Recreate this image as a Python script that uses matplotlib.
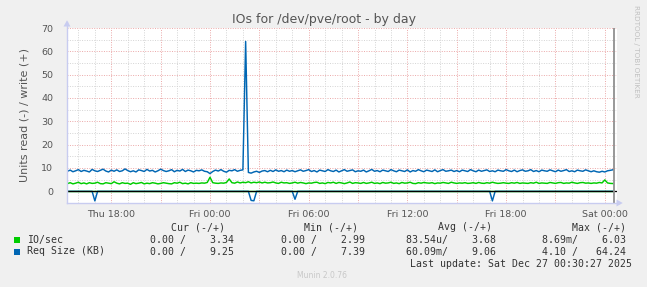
import matplotlib
matplotlib.use("Agg")
import matplotlib.pyplot as plt
import numpy as np

# ---------------- data ----------------
# samples every 10 minutes, first sample Thu 15:20, last Sat 00:30 (hours from Thu 00:00)
start_hour = 15 + 20 / 60
step_hours = 10 / 60

# write Req Size (KB), positive side
req_size_write = [
    8.6, 9.1, 8.4, 8.8, 9.3, 8.5, 9.0, 8.7, 8.3, 9.4, 8.8, 8.5,
    9.0, 9.5, 8.7, 8.3, 9.1, 8.6, 9.2, 8.5, 8.8, 9.6, 8.9, 8.4,
    8.8, 8.3, 9.2, 8.9, 8.5, 9.4, 8.7, 9.0, 8.3, 8.8, 9.5, 8.9,
    8.5, 8.8, 9.3, 8.4, 9.0, 8.7, 9.4, 8.5, 9.1, 8.8, 8.3, 9.0,
    8.8, 9.2, 8.6, 8.4, 7.6, 8.5, 9.1, 8.7, 9.3, 8.6, 8.2, 9.0,
    8.8, 9.3, 8.6, 9.0, 9.2, 64.24, 8.1, 7.8, 8.3, 8.6, 8.1, 8.7,
    8.9, 8.4, 9.0, 8.5, 9.2, 8.6, 8.9, 8.4, 9.1, 8.6, 8.9, 8.4,
    8.8, 9.2, 8.6, 8.9, 9.3, 8.5, 8.9, 8.3, 9.1, 8.8, 8.5, 9.3,
    8.8, 8.5, 9.1, 8.3, 8.8, 9.3, 8.6, 8.9, 9.2, 8.4, 8.8, 8.6,
    9.1, 8.3, 8.8, 9.4, 8.6, 8.9, 8.4, 9.1, 8.8, 8.5, 9.3, 8.8,
    8.4, 9.1, 8.8, 8.5, 9.2, 8.3, 8.9, 8.6, 9.3, 8.8, 8.4, 9.1,
    8.8, 8.5, 9.2, 8.4, 8.9, 9.3, 8.6, 8.8, 9.1, 8.5, 8.9, 8.4,
    9.1, 8.8, 8.5, 9.3, 8.8, 8.4, 9.1, 8.6, 8.9, 9.2, 8.5, 8.8,
    8.4, 9.1, 8.8, 8.6, 9.3, 8.8, 8.5, 9.1, 8.4, 8.9, 9.2, 8.6,
    8.8, 9.3, 8.5, 8.9, 8.4, 9.1, 8.8, 8.6, 9.2, 8.8, 8.4, 9.1,
    8.6, 8.9, 9.3, 8.5, 8.8, 8.4, 9.1, 8.8, 8.6, 9.2, 8.8, 8.4,
    8.8, 8.4, 8.2, 8.6, 8.3, 8.8, 9.0, 9.25,
]

# write IO/sec, positive side
io_write = [
    3.3, 3.7, 3.2, 3.5, 3.9, 3.3, 3.6, 3.2, 3.7, 3.4, 3.5, 3.9,
    3.3, 3.2, 3.7, 3.5, 3.3, 4.1, 3.5, 3.2, 3.7, 3.4, 3.5, 3.0,
    3.7, 3.3, 3.5, 3.8, 3.2, 3.5, 3.3, 3.7, 3.5, 3.2, 3.4, 3.7,
    3.5, 3.3, 3.2, 3.7, 3.5, 3.9, 3.3, 3.5, 3.2, 3.7, 3.4, 3.5,
    3.4, 3.6, 3.5, 3.8, 6.03, 3.7, 3.5, 3.4, 3.6, 3.5, 3.8, 5.3,
    3.7, 3.5, 4.0, 3.6, 3.9, 3.7, 4.1, 3.6, 3.9, 3.7, 4.0, 3.6,
    3.9, 3.6, 3.7, 4.0, 3.6, 3.4, 3.9, 3.6, 3.7, 3.4, 3.6, 3.9,
    3.5, 3.8, 3.6, 3.3, 3.6, 3.5, 3.8, 3.9, 3.4, 3.6, 3.3, 3.8,
    3.6, 3.9, 3.4, 3.8, 3.6, 3.3, 3.6, 4.0, 3.4, 3.7, 3.6, 3.4,
    3.8, 3.4, 3.6, 3.9, 3.4, 3.6, 3.3, 3.8, 3.5, 3.6, 3.9, 3.4,
    3.6, 3.3, 3.8, 3.5, 3.6, 3.9, 3.4, 3.3, 3.7, 3.5, 3.8, 3.6,
    3.5, 3.7, 3.3, 3.6, 3.5, 3.8, 3.6, 3.4, 3.9, 3.6, 3.4, 3.6,
    3.5, 3.7, 3.4, 3.5, 3.7, 3.4, 3.8, 3.5, 3.4, 3.7, 3.5, 3.9,
    3.6, 3.4, 3.5, 3.7, 3.5, 3.4, 3.7, 3.5, 3.8, 3.4, 3.6, 3.5,
    3.4, 3.7, 3.5, 3.9, 3.4, 3.6, 3.5, 3.4, 3.8, 3.6, 3.4, 3.7,
    3.8, 3.4, 3.6, 3.5, 3.9, 3.6, 3.4, 3.7, 3.8, 3.5, 3.6, 3.4,
    3.6, 3.5, 3.8, 3.6, 4.9, 3.6, 3.4, 3.34,
]

# read Req Size (KB): non-zero samples only (sample index -> value), elsewhere 0
read_req_index = [10, 67, 68, 83, 155]
read_req_value = [4.10, 3.9, 4.05, 3.4, 4.1]

tick_hours = [18, 24, 30, 36, 42, 48]
tick_labels = ["Thu 18:00", "Fri 00:00", "Fri 06:00", "Fri 12:00", "Fri 18:00", "Sat 00:00"]

legend_names = ["IO/sec", "Req Size (KB)"]
legend_colors = ["#00CC00", "#0066B3"]
legend_headers = ["Cur (-/+)", "Min (-/+)", "Avg (-/+)", "Max (-/+)"]
legend_rows = [
    ["0.00 /    3.34", "0.00 /    2.99", "83.54u/    3.68", "8.69m/    6.03"],
    ["0.00 /    9.25", "0.00 /    7.39", "60.09m/    9.06", "4.10 /   64.24"],
]

# ---------------- figure ----------------
W, H = 647, 287
fig = plt.figure(figsize=(W / 100, H / 100), dpi=100, facecolor="#F0F0F0")

x_left_px, x_right_px = 67, 617
y_top_px, y_bot_px = 28, 203
ax = fig.add_axes([x_left_px / W, 1 - y_bot_px / H,
                   (x_right_px - x_left_px) / W, (y_bot_px - y_top_px) / H])
ax.set_facecolor("white")

n = len(req_size_write)
hours = start_hour + step_hours * np.arange(n)
read_req = np.zeros(n)
read_req[read_req_index] = read_req_value
read_io = np.zeros(n)

x0 = 24 - (210 - x_left_px) / 16.45
x1 = 24 + (x_right_px - 210) / 16.45
ax.set_xlim(x0, x1)
ax.set_ylim(-5, 70)

# grid
minor_c = "#D4D4D4"
major_c = "#EBA8A8"
for yv in range(-5, 71, 5):
    c = major_c if yv % 10 == 0 else minor_c
    ax.axhline(yv, color=c, lw=0.7, ls=(0, (1, 1.5)), zorder=1)
for hv in range(16, 49):
    c = major_c if hv % 3 == 0 else minor_c
    ax.axvline(hv, color=c, lw=0.7, ls=(0, (1, 1.5)), zorder=1)

# series
ax.plot(hours, -read_io, color=legend_colors[0], lw=1.05, zorder=3)
ax.plot(hours, io_write, color=legend_colors[0], lw=1.05, zorder=3)
ax.plot(hours, -read_req, color=legend_colors[1], lw=1.05, zorder=3)
ax.plot(hours, req_size_write, color=legend_colors[1], lw=1.05, zorder=3)
ax.axhline(0, color="black", lw=0.9, zorder=4)
ax.axvline(hours[-1] + 0.05, color="#909090", lw=1.3, zorder=5)

# axes
for s in ax.spines.values():
    s.set_visible(False)
axis_c = "#C8CCF0"
ax.plot([x0, x0], [-5, 72.5], color=axis_c, lw=1.0, clip_on=False, zorder=6)
ax.plot([x0, x1 + 0.1], [-5, -5], color=axis_c, lw=1.0, clip_on=False, zorder=6)
ax.annotate("", xy=(x0, 74.5), xytext=(x0, 71.5),
            arrowprops=dict(arrowstyle="-|>,head_width=0.25,head_length=0.45",
                            color=axis_c, lw=0), annotation_clip=False)
ax.annotate("", xy=(x1 + 0.35, -5), xytext=(x1 + 0.05, -5),
            arrowprops=dict(arrowstyle="-|>,head_width=0.25,head_length=0.45",
                            color=axis_c, lw=0), annotation_clip=False)

ax.set_yticks(range(0, 71, 10))
ax.set_xticks(tick_hours)
ax.set_xticklabels(tick_labels)
ax.tick_params(axis="both", length=0, labelsize=6.8, labelcolor="#555555")
ax.tick_params(axis="y", pad=10)
ax.tick_params(axis="x", pad=5)

ax.set_ylabel("Units read (-) / write (+)", fontsize=8, color="#555555", labelpad=8)

fig.text(323.5 / W, 1 - 19 / H, "IOs for /dev/pve/root - by day",
         ha="center", va="center", fontsize=9, color="#555555")
fig.text(636 / W, 1 - 5 / H, "RRDTOOL / TOBI OETIKER", rotation=270,
         ha="center", va="top", fontsize=5.2, color="#C0C0C0")
fig.text(322 / W, 1 - 276 / H, "Munin 2.0.76", ha="center", va="center",
         fontsize=5.5, color="#C8C8C8")

mono = "DejaVu Sans Mono"
fs = 7.1
tc = "#333333"
header_right = [225, 358, 492, 626]
value_right = [234, 365, 496, 626]
for hx, htxt in zip(header_right, legend_headers):
    fig.text(hx / W, 1 - 227.5 / H, htxt, ha="right", va="center",
             family=mono, fontsize=fs, color=tc)
row_y = [239.5, 251.5]
for name, col, vals, ry in zip(legend_names, legend_colors, legend_rows, row_y):
    fig.patches.append(plt.Rectangle((14 / W, 1 - (ry + 3) / H), 6 / W, 6 / H,
                                     transform=fig.transFigure, facecolor=col,
                                     edgecolor="none"))
    fig.text(27 / W, 1 - ry / H, name, ha="left", va="center",
             family=mono, fontsize=fs, color=tc)
    for vx, v in zip(value_right, vals):
        fig.text(vx / W, 1 - ry / H, v, ha="right", va="center",
                 family=mono, fontsize=fs, color=tc)
fig.text(632 / W, 1 - 264 / H, "Last update: Sat Dec 27 00:30:27 2025", ha="right",
         va="center", family=mono, fontsize=fs, color=tc)

fig.savefig("out.png", dpi=100, facecolor=fig.get_facecolor())
